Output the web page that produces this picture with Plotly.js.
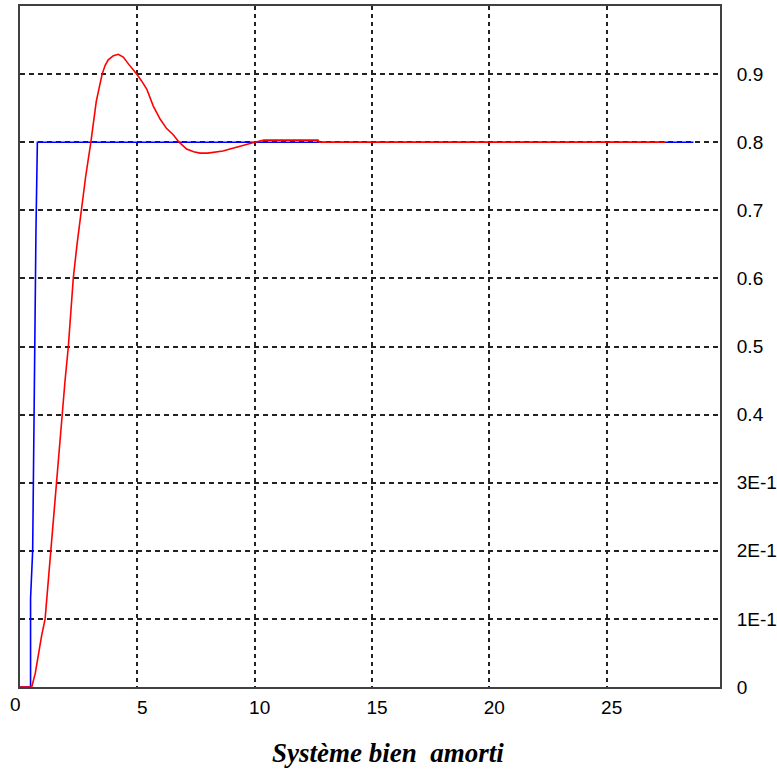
<!DOCTYPE html>
<html>
<head>
<meta charset="utf-8">
<script src="https://cdn.plot.ly/plotly-3.0.1.min.js"></script>
<style>
html,body{margin:0;padding:0;background:#fff;}
#chart{width:777px;height:769px;}
.gridlayer path{shape-rendering:crispEdges;}
</style>
</head>
<body>
<div id="chart"></div>
<script>
// Consigne (blue step)
var stepT = [0, 0.45, 0.45, 0.54, 0.6, 0.64, 0.68, 0.74, 28.7];
var stepV = [0, 0, 0.13, 0.2, 0.4, 0.55, 0.67, 0.8, 0.8];
// Réponse (red)
var respT = [0, 0.5, 0.65, 0.78, 0.92, 1.07, 1.19, 1.31, 1.44, 1.56, 1.67, 1.78, 1.92, 2.06, 2.17, 2.27, 2.43, 2.6, 2.8, 3.02, 3.25, 3.5, 3.63, 3.76, 3.98, 4.19, 4.4, 4.62, 4.8, 4.97, 5.18, 5.4, 5.68, 5.97, 6.25, 6.53, 6.78, 7.1, 7.4, 7.67, 8.0, 8.3, 8.65, 8.95, 9.25, 9.5, 9.75, 10.0, 10.4, 12.7, 12.75, 27.5];
var respV = [0, 0, 0.02, 0.05, 0.075, 0.1, 0.15, 0.2, 0.25, 0.3, 0.35, 0.4, 0.45, 0.5, 0.55, 0.6, 0.65, 0.7, 0.75, 0.8, 0.86, 0.9, 0.913, 0.921, 0.927, 0.929, 0.925, 0.915, 0.908, 0.9, 0.89, 0.878, 0.853, 0.834, 0.82, 0.811, 0.8, 0.79, 0.786, 0.784, 0.784, 0.785, 0.787, 0.79, 0.793, 0.795, 0.798, 0.8, 0.803, 0.803, 0.8, 0.8];
var xTicks = [0, 5, 10, 15, 20, 25];
var xTickText = ["", "5", "10", "15", "20", "25"];
var yTicks = [0, 0.1, 0.2, 0.3, 0.4, 0.5, 0.6, 0.7, 0.8, 0.9];
var yTickText = ["0", "1E-1", "2E-1", "3E-1", "0.4", "0.5", "0.6", "0.7", "0.8", "0.9"];
var chartTitle = "Système bien\u00a0 amorti";

var traces = [
  {x: stepT, y: stepV, mode: "lines", line: {color: "#0000ff", width: 1.6}, hoverinfo: "skip"},
  {x: respT, y: respV, mode: "lines", line: {color: "#ff0000", width: 1.6}, hoverinfo: "skip"}
];

var tf = {size: 19, family: "Liberation Sans, Arial, sans-serif", color: "#000"};
var layout = {
  width: 777, height: 769,
  margin: {l: 20, r: 57, t: 6, b: 82},
  paper_bgcolor: "#fff", plot_bgcolor: "#fff",
  showlegend: false,
  font: {family: "Liberation Sans, Arial, sans-serif", color: "#000"},
  xaxis: {
    range: [0, 29.83], tickmode: "array", tickvals: xTicks, ticktext: xTickText,
    showgrid: true, gridcolor: "#222", gridwidth: 2, griddash: "4px,4px",
    showline: true, linecolor: "#404040", linewidth: 2, mirror: true,
    zeroline: false, ticks: "", ticklabelshift: 5, ticklabelstandoff: 2,
    tickfont: tf
  },
  yaxis: {
    range: [0, 1.0], side: "right", tickmode: "array", tickvals: yTicks, ticktext: yTickText,
    showgrid: true, gridcolor: "#222", gridwidth: 2, griddash: "5px,4px",
    showline: true, linecolor: "#404040", linewidth: 2, mirror: true,
    zeroline: false, ticks: "", ticklabelstandoff: 11,
    tickfont: tf
  },
  annotations: [
    {text: "0", xref: "x", yref: "paper", x: 0, y: 0, xanchor: "center", yanchor: "top", xshift: -5, yshift: -5, showarrow: false,
     font: tf},
    {text: "<b><i>" + chartTitle + "</i></b>", xref: "paper", yref: "paper", x: 0.526, y: -0.097, xanchor: "center", yanchor: "middle", showarrow: false,
     font: {size: 27, family: "Liberation Serif, Times New Roman, serif", color: "#000"}}
  ]
};

Plotly.newPlot("chart", traces, layout, {staticPlot: true, displayModeBar: false});
</script>
</body>
</html>
